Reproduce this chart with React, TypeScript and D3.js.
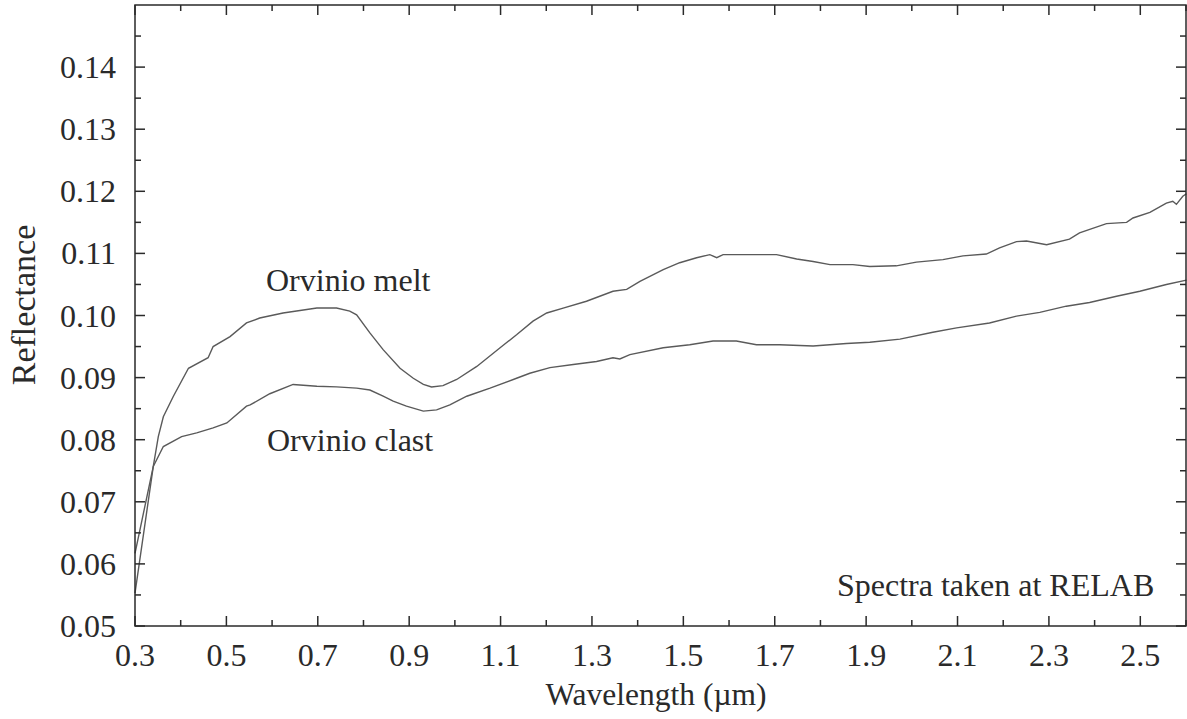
import React from "react";
import * as d3 from "d3";

const meltWavelength = [0.300,0.340,0.351,0.362,0.384,0.417,0.460,0.471,0.508,0.544,0.573,0.624,0.698,0.741,0.770,0.785,0.814,0.843,0.880,0.909,0.931,0.949,0.974,1.004,1.048,1.099,1.135,1.171,1.201,1.237,1.288,1.346,1.376,1.405,1.456,1.492,1.529,1.558,1.573,1.587,1.638,1.704,1.748,1.784,1.821,1.871,1.908,1.966,2.010,2.068,2.112,2.163,2.192,2.229,2.251,2.295,2.345,2.367,2.426,2.470,2.484,2.521,2.557,2.571,2.579,2.593,2.601];
const meltReflectance = [0.0553,0.0757,0.0805,0.0837,0.0870,0.0915,0.0932,0.0950,0.0966,0.0988,0.0996,0.1004,0.1012,0.1012,0.1007,0.1001,0.0972,0.0945,0.0915,0.0899,0.0889,0.0885,0.0887,0.0897,0.0918,0.0948,0.0969,0.0991,0.1004,0.1012,0.1023,0.1039,0.1042,0.1055,0.1074,0.1085,0.1093,0.1098,0.1093,0.1098,0.1098,0.1098,0.1091,0.1087,0.1082,0.1082,0.1079,0.1080,0.1086,0.1090,0.1096,0.1099,0.1109,0.1119,0.1120,0.1114,0.1123,0.1133,0.1148,0.1150,0.1157,0.1166,0.1181,0.1184,0.1179,0.1192,0.1196];

const clastWavelength = [0.300,0.340,0.362,0.402,0.435,0.471,0.501,0.544,0.552,0.595,0.646,0.698,0.741,0.785,0.814,0.843,0.865,0.894,0.931,0.960,0.989,1.026,1.077,1.135,1.164,1.208,1.259,1.310,1.346,1.361,1.383,1.456,1.514,1.565,1.616,1.660,1.711,1.784,1.857,1.908,1.974,2.046,2.098,2.170,2.229,2.280,2.338,2.389,2.448,2.499,2.557,2.601];
const clastReflectance = [0.0617,0.0757,0.0789,0.0805,0.0811,0.0819,0.0827,0.0854,0.0856,0.0874,0.0889,0.0886,0.0885,0.0883,0.0880,0.0870,0.0862,0.0854,0.0846,0.0848,0.0856,0.0870,0.0883,0.0899,0.0907,0.0916,0.0921,0.0926,0.0932,0.0930,0.0937,0.0948,0.0953,0.0959,0.0959,0.0953,0.0953,0.0951,0.0955,0.0957,0.0962,0.0973,0.0980,0.0988,0.0999,0.1005,0.1015,0.1021,0.1031,0.1039,0.1050,0.1057];

const xMajorTicks = [0.3,0.5,0.7,0.9,1.1,1.3,1.5,1.7,1.9,2.1,2.3,2.5];
const xMinorTicks = [0.4,0.6,0.8,1.0,1.2,1.4,1.6,1.8,2.0,2.2,2.4,2.6];
const yMajorTicks = [0.05,0.06,0.07,0.08,0.09,0.10,0.11,0.12,0.13,0.14];
const yMinorTicks = [0.055,0.065,0.075,0.085,0.095,0.105,0.115,0.125,0.135,0.145];

const W = 1187, H = 719;
const L = 135, R = 1186, T = 5, B = 626;
const FONT = "Liberation Serif, Times New Roman, serif";
const INK = "#2a2a2a";
const LINE = "#5a5a5a";

export default function App() {
  const x = d3.scaleLinear().domain([0.3, 2.6]).range([L, R]);
  const y = d3.scaleLinear().domain([0.05, 0.15]).range([B, T]);
  const line = d3.line<[number, number]>().x(d => x(d[0])).y(d => y(d[1]));
  const melt = meltWavelength.map((w, i) => [w, meltReflectance[i]] as [number, number]);
  const clast = clastWavelength.map((w, i) => [w, clastReflectance[i]] as [number, number]);
  const maj = 10, min = 6;
  return (
    <svg width={W} height={H} style={{ position: "absolute", left: 0, top: 0, background: "#fff" }}>
      <rect x={0} y={0} width={W} height={H} fill="#fff" />
      <g stroke={LINE} strokeWidth={1.4} fill="none">
        <path d={line(melt) || ""} />
        <path d={line(clast) || ""} />
      </g>
      <rect x={L} y={T} width={R - L} height={B - T} fill="none" stroke={INK} strokeWidth={1.5} />
      <g stroke={INK} strokeWidth={1.5}>
        {xMajorTicks.map(t => (
          <g key={"xM" + t}>
            <line x1={x(t)} x2={x(t)} y1={B} y2={B - maj} />
            <line x1={x(t)} x2={x(t)} y1={T} y2={T + maj} />
          </g>
        ))}
        {xMinorTicks.map(t => (
          <g key={"xm" + t}>
            <line x1={x(t)} x2={x(t)} y1={B} y2={B - min} />
            <line x1={x(t)} x2={x(t)} y1={T} y2={T + min} />
          </g>
        ))}
        {yMajorTicks.map(t => (
          <g key={"yM" + t}>
            <line x1={L} x2={L + maj} y1={y(t)} y2={y(t)} />
            <line x1={R} x2={R - maj} y1={y(t)} y2={y(t)} />
          </g>
        ))}
        {yMinorTicks.map(t => (
          <g key={"ym" + t}>
            <line x1={L} x2={L + min} y1={y(t)} y2={y(t)} />
            <line x1={R} x2={R - min} y1={y(t)} y2={y(t)} />
          </g>
        ))}
      </g>
      <g fontFamily={FONT} fontSize={32} fill={INK}>
        {xMajorTicks.map(t => (
          <text key={"xl" + t} x={x(t)} y={666} textAnchor="middle">{d3.format(".1f")(t)}</text>
        ))}
        {yMajorTicks.map(t => (
          <text key={"yl" + t} x={116} y={y(t) + 11} textAnchor="end">{d3.format(".2f")(t)}</text>
        ))}
        <text x={656} y={705} textAnchor="middle" fontSize={31.5}>Wavelength (µm)</text>
        <text transform={`translate(35, 305) rotate(-90)`} textAnchor="middle" fontSize={34}>Reflectance</text>
        <text x={266} y={291}>Orvinio melt</text>
        <text x={267} y={451}>Orvinio clast</text>
        <text x={837} y={596}>Spectra taken at RELAB</text>
      </g>
    </svg>
  );
}
